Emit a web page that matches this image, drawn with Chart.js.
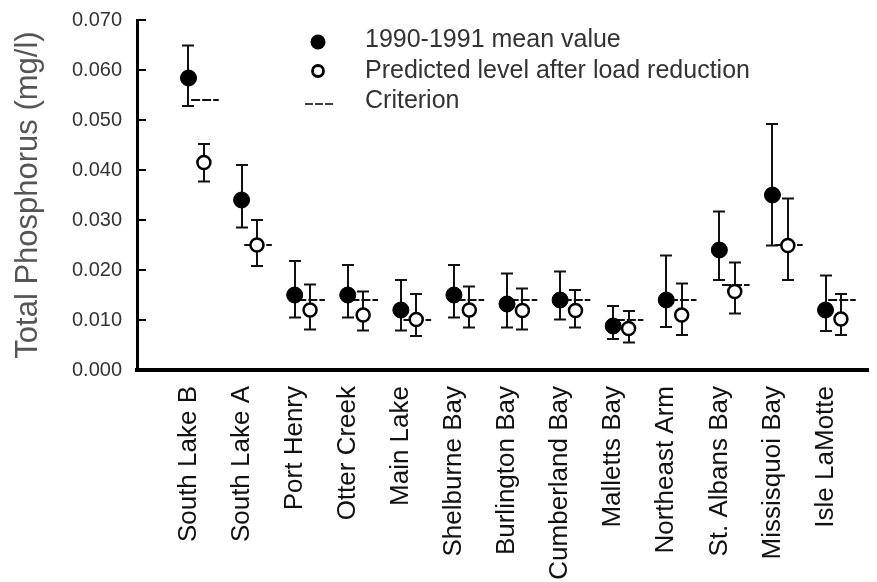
<!DOCTYPE html>
<html>
<head>
<meta charset="utf-8">
<script src="https://cdn.jsdelivr.net/npm/chart.js@4.4.1/dist/chart.umd.min.js"></script>
<style>
  html, body { margin: 0; padding: 0; background: #fff; }
  #wrap { width: 877px; height: 582px; position: relative; }
</style>
</head>
<body>
<div id="wrap"><canvas id="phosphorus_chart"></canvas></div>
<script>
// sites along the lake
var sites = ['South Lake B', 'South Lake A', 'Port Henry', 'Otter Creek', 'Main Lake',
  'Shelburne Bay', 'Burlington Bay', 'Cumberland Bay', 'Malletts Bay', 'Northeast Arm',
  'St. Albans Bay', 'Missisquoi Bay', 'Isle LaMotte'];

// 1990-1991 mean value and its error bar
var meanValues = [0.0584, 0.0340, 0.0150, 0.0150, 0.0120, 0.0150, 0.0132, 0.0140, 0.0088, 0.0140, 0.0240, 0.0350, 0.0120];
var meanHigh   = [0.0649, 0.0410, 0.0218, 0.0210, 0.0180, 0.0210, 0.0193, 0.0197, 0.0128, 0.0229, 0.0317, 0.0492, 0.0189];
var meanLow    = [0.0528, 0.0285, 0.0105, 0.0105, 0.0079, 0.0105, 0.0085, 0.0101, 0.0062, 0.0086, 0.0180, 0.0249, 0.0078];

// predicted level after load reduction and its error bar
var predValues = [0.0415, 0.0250, 0.0120, 0.0110, 0.0101, 0.0120, 0.0119, 0.0119, 0.0083, 0.0110, 0.0157, 0.0249, 0.0102];
var predHigh   = [0.0452, 0.0300, 0.0171, 0.0157, 0.0152, 0.0167, 0.0163, 0.0160, 0.0118, 0.0173, 0.0215, 0.0343, 0.0152];
var predLow    = [0.0377, 0.0208, 0.0081, 0.0079, 0.0068, 0.0085, 0.0081, 0.0085, 0.0055, 0.0070, 0.0113, 0.0180, 0.0070];

// criterion per site
var criterion = [0.054, 0.025, 0.014, 0.014, 0.010, 0.014, 0.014, 0.014, 0.010, 0.014, 0.017, 0.025, 0.014];

var yTicks = [0, 0.01, 0.02, 0.03, 0.04, 0.05, 0.06, 0.07];

var PRED_SHIFT = 0.29;
var FONT = "'Liberation Sans', Arial, sans-serif";

var meanPoints = sites.map(function (s, i) { return {x: i, y: meanValues[i]}; });
var predPoints = sites.map(function (s, i) { return {x: i + PRED_SHIFT, y: predValues[i]}; });

// error bars + criterion dashes, drawn under the markers
var errorBars = {
  id: 'errorBars',
  beforeDatasetsDraw: function (chart) {
    var ctx = chart.ctx, x = chart.scales.x, y = chart.scales.y;
    ctx.save();
    ctx.strokeStyle = '#111';
    ctx.lineWidth = 2;
    function bar(xv, lo, hi) {
      var px = Math.round(x.getPixelForValue(xv));
      var top = y.getPixelForValue(hi), bot = y.getPixelForValue(lo);
      ctx.beginPath();
      ctx.moveTo(px, top); ctx.lineTo(px, bot);
      ctx.moveTo(px - 6, top); ctx.lineTo(px + 6, top);
      ctx.moveTo(px - 6, bot); ctx.lineTo(px + 6, bot);
      ctx.stroke();
    }
    sites.forEach(function (s, i) {
      bar(i, meanLow[i], meanHigh[i]);
      bar(i + PRED_SHIFT, predLow[i], predHigh[i]);
    });
    ctx.setLineDash([9, 2]);
    ctx.lineWidth = 1.8;
    sites.forEach(function (s, i) {
      var py = y.getPixelForValue(criterion[i]);
      ctx.beginPath();
      ctx.moveTo(x.getPixelForValue(i + 0.05), py);
      ctx.lineTo(x.getPixelForValue(i + 0.57), py);
      ctx.stroke();
    });
    ctx.restore();
  },
  afterDraw: function (chart) {
    var ctx = chart.ctx, y = chart.scales.y, area = chart.chartArea;
    ctx.save();
    // inward tick marks on the y axis
    ctx.strokeStyle = '#000';
    ctx.lineWidth = 2;
    yTicks.forEach(function (v) {
      if (v === 0) return;
      var py = Math.round(y.getPixelForValue(v));
      ctx.beginPath();
      ctx.moveTo(area.left, py);
      ctx.lineTo(area.left + 9, py);
      ctx.stroke();
    });
    // legend
    ctx.fillStyle = '#000';
    ctx.beginPath(); ctx.arc(318, 42, 7.5, 0, Math.PI * 2); ctx.fill();
    ctx.lineWidth = 2.8;
    ctx.beginPath(); ctx.arc(318, 71, 5.5, 0, Math.PI * 2); ctx.stroke();
    ctx.lineWidth = 1.6;
    ctx.setLineDash([8, 2]);
    ctx.beginPath(); ctx.moveTo(305, 104); ctx.lineTo(333, 104); ctx.stroke();
    ctx.setLineDash([]);
    ctx.fillStyle = '#333';
    ctx.font = '25px ' + FONT;
    ctx.textBaseline = 'middle';
    ctx.fillText('1990-1991 mean value', 365, 40);
    ctx.fillText('Predicted level after load reduction', 365, 71);
    ctx.fillText('Criterion', 365, 101);
    ctx.restore();
  }
};

var ctx = document.getElementById('phosphorus_chart').getContext('2d');

var chartInstance = new Chart(ctx, {
  type: 'scatter',
  data: {
    datasets: [{
      label: '1990-1991 mean value',
      data: meanPoints,
      pointRadius: 8,
      pointHoverRadius: 8,
      backgroundColor: '#000',
      borderColor: '#000',
      borderWidth: 1
    }, {
      label: 'Predicted level after load reduction',
      data: predPoints,
      pointRadius: 6.5,
      pointHoverRadius: 6.5,
      backgroundColor: '#fff',
      borderColor: '#000',
      borderWidth: 2.5
    }]
  },
  options: {
    responsive: true,
    maintainAspectRatio: false,
    animation: false,
    layout: { padding: { top: 20, right: 0, bottom: 0, left: 0 } },
    plugins: {
      legend: { display: false },
      tooltip: { enabled: false }
    },
    scales: {
      x: {
        type: 'linear',
        min: -0.97,
        max: 12.8,
        grid: { display: false },
        border: { display: true, color: '#000', width: 4 },
        afterBuildTicks: function (scale) {
          scale.ticks = sites.map(function (s, i) { return {value: i}; });
        },
        afterFit: function (scale) { scale.height = 212; },
        ticks: {
          autoSkip: false,
          minRotation: 90,
          maxRotation: 90,
          padding: 8,
          color: '#111',
          font: { family: FONT, size: 26 },
          callback: function (value) { return sites[value] !== undefined ? sites[value] : ''; }
        }
      },
      y: {
        min: 0,
        max: 0.07,
        grid: { display: false },
        border: { display: true, color: '#000', width: 3 },
        afterBuildTicks: function (scale) {
          scale.ticks = yTicks.map(function (v) { return {value: v}; });
        },
        afterFit: function (scale) { scale.width = 137; },
        title: {
          display: true,
          text: 'Total Phosphorus (mg/l)',
          color: '#555',
          font: { family: FONT, size: 31 },
          padding: { top: 10, bottom: 0 }
        },
        ticks: {
          padding: 7,
          color: '#333',
          font: { family: FONT, size: 20 },
          callback: function (value) { return value.toFixed(3); }
        }
      }
    }
  },
  plugins: [errorBars]
});
</script>
</body>
</html>
